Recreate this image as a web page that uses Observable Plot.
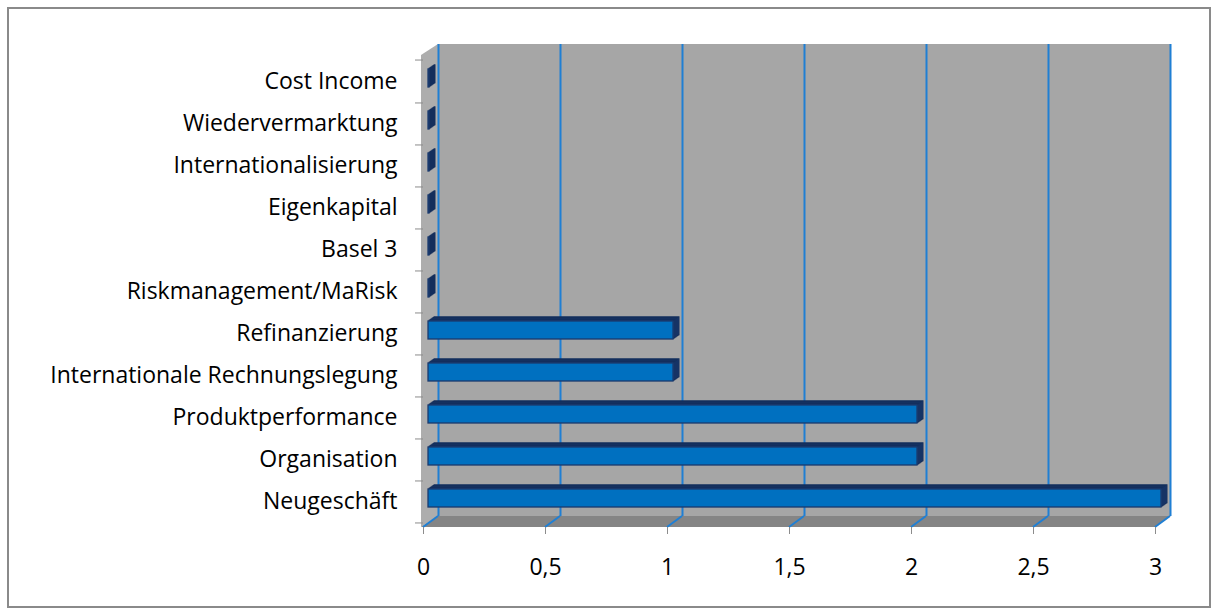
<!DOCTYPE html>
<html>
<head>
<meta charset="utf-8">
<script src="https://cdn.jsdelivr.net/npm/d3@7"></script>
<script src="https://cdn.jsdelivr.net/npm/@observablehq/plot@0.6"></script>
<style>
  html, body { margin: 0; padding: 0; background: #fff; }
  #wrap { position: relative; width: 1218px; height: 614px; }
  #border { position: absolute; left: 7px; top: 7px; width: 1200px; height: 597px; border: 2px solid #8a8a8a; pointer-events: none; }
  #chart { position: absolute; left: 0; top: 0; }
</style>
</head>
<body>
<div id="wrap"><div id="chart"></div><div id="border"></div></div>
<script>
// ---- data ----
const categories = ["Cost Income", "Wiedervermarktung", "Internationalisierung", "Eigenkapital", "Basel 3",
  "Riskmanagement/MaRisk", "Refinanzierung", "Internationale Rechnungslegung", "Produktperformance",
  "Organisation", "Neugeschäft"];
const values = [0, 0, 0, 0, 0, 0, 1, 1, 2, 2, 3];
const xTicks = [0, 0.5, 1, 1.5, 2, 2.5, 3];
const xTickLabels = ["0", "0,5", "1", "1,5", "2", "2,5", "3"];

const data = categories.map((c, i) => ({category: c, value: values[i]}));

// ---- layout ----
const W = 1218, H = 614;
const M = {top: 55, right: 63, bottom: 87, left: 423};
const DX = 15, DY = -11;           // depth of the 3D walls
const bw = (H - M.top - M.bottom) / categories.length;
const grid = "#1f7fd4";
const barInsetTop = 9, barInsetBottom = 15;

function walls(index, scales, values, dims) {
  const x = scales.x;
  const x0 = x(0), x1 = x(3);
  const top = dims.marginTop, bot = dims.height - dims.marginBottom;
  const g = d3.create("svg:g");
  g.append("path").attr("d", `M${x0 - 2},${bot}L${x0 - 2},${top}L${x0 + DX},${top + DY}L${x0 + DX},${bot + DY}Z`).attr("fill", "#adadad");
  g.append("rect").attr("x", x0 + DX).attr("y", top + DY).attr("width", x1 - x0).attr("height", bot - top).attr("fill", "#a6a6a6");
  g.append("path").attr("d", `M${x0 - 2},${bot}L${x1},${bot}L${x1 + DX},${bot + DY}L${x0 + DX},${bot + DY}Z`).attr("fill", "#858585");
  for (const v of xTicks) {
    g.append("line").attr("x1", x(v)).attr("y1", bot).attr("x2", x(v) + DX).attr("y2", bot + DY)
      .attr("stroke", grid).attr("stroke-width", 2);
  }
  return g.node();
}

const extrusion = [6, 5, 4, 3, 2, 1].map(k =>
  Plot.barX(data, {x: "value", y: "category", dx: 5 + k, dy: -0.7 * k, insetTop: barInsetTop, insetBottom: barInsetBottom, insetRight: -1,
    fill: "#1d4480", stroke: "#142f5c", strokeWidth: 1})
);

const chart = Plot.plot({
  width: W, height: H,
  marginTop: M.top, marginRight: M.right, marginBottom: M.bottom, marginLeft: M.left,
  style: {fontFamily: "'Open Sans', sans-serif", fontSize: "23px", color: "black", background: "transparent"},
  x: {domain: [0, 3]},
  y: {domain: categories, padding: 0},
  marks: [
    walls,
    Plot.ruleX(xTicks, {x: d => d, dx: DX, dy: DY, stroke: grid, strokeWidth: 2}),
    ...extrusion,
    Plot.barX(data, {x: "value", y: "category", dx: 5, insetTop: barInsetTop, insetBottom: barInsetBottom, insetRight: -1,
      fill: "#0070c0", stroke: "#1a3a6e", strokeWidth: 1.3}),
    Plot.axisY({tickSize: 0, tickPadding: 26, label: null, fill: "black"}),
    Plot.axisY({tickSize: 8, text: null, label: null, dy: bw / 2, stroke: "#8c8c8c"}),
    Plot.axisY({ticks: [categories[0]], tickSize: 8, text: null, label: null, dy: -bw / 2, stroke: "#8c8c8c"}),
    Plot.axisX({ticks: xTicks, tickSize: 7, text: null, label: null, stroke: "#8c8c8c"}),
    Plot.axisX({ticks: xTicks, tickSize: 0, tickPadding: 31, label: null, fill: "black",
      tickFormat: d => xTickLabels[xTicks.indexOf(d)]})
  ]
});
document.getElementById("chart").appendChild(chart);
</script>
</body>
</html>
